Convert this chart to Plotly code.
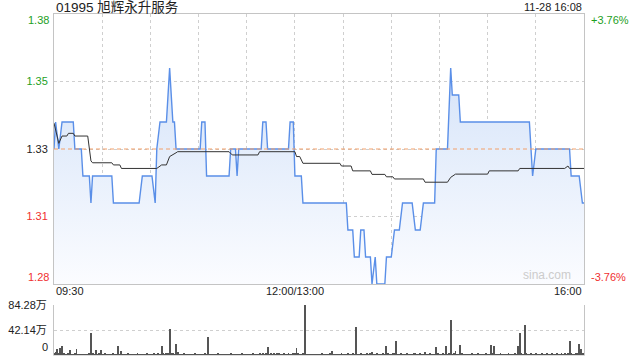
import plotly.graph_objects as go

# ---------------- data ----------------
title_text = "01995 旭辉永升服务"
stamp_text = "11-28 16:08"
prev_close = 1.33

# price: (minute since 09:30 on a 330-minute session, price)
price_t = [0, 1, 3, 5, 12, 13, 17, 18, 22, 23, 24, 36, 37, 53, 55, 61, 63, 64, 66, 70,
           72, 74, 75, 76, 91, 92, 94, 95, 109, 110, 113, 114, 115, 129, 130, 132, 133, 146, 147, 149,
           150, 154, 155, 182, 183, 186, 187, 190, 191, 193, 194, 197, 198, 200, 201, 206, 207, 210, 212, 215,
           217, 223, 225, 228, 230, 237, 238, 245, 247, 248, 252, 253, 296, 298, 300, 321, 322, 327, 329, 330]
price_v = [1.33, 1.34, 1.33, 1.34, 1.34, 1.33, 1.33, 1.32, 1.32, 1.31, 1.32, 1.32, 1.31, 1.31, 1.32, 1.32, 1.31, 1.33, 1.34, 1.34,
           1.36, 1.34, 1.34, 1.33, 1.33, 1.34, 1.34, 1.32, 1.32, 1.33, 1.33, 1.32, 1.33, 1.33, 1.34, 1.34, 1.33, 1.33, 1.34, 1.34,
           1.32, 1.32, 1.31, 1.31, 1.30, 1.30, 1.29, 1.29, 1.30, 1.30, 1.29, 1.29, 1.28, 1.29, 1.28, 1.28, 1.29, 1.29, 1.30, 1.30,
           1.31, 1.31, 1.30, 1.30, 1.31, 1.31, 1.33, 1.33, 1.36, 1.35, 1.35, 1.34, 1.34, 1.32, 1.33, 1.33, 1.32, 1.32, 1.31, 1.31]

# average price line
avg_t = [0, 3, 5, 8, 9, 12, 13, 21, 23, 24, 36, 37, 41, 42, 64, 67, 70, 72, 76, 77,
         109, 111, 127, 128, 150, 151, 153, 155, 178, 179, 185, 186, 197, 198, 206, 207, 211, 212, 230, 231,
         245, 247, 250, 270, 271, 289, 290, 318, 320, 321, 330]
avg_v = [1.3396, 1.3321, 1.3348, 1.3348, 1.3358, 1.3358, 1.3348, 1.3348, 1.3256, 1.3249, 1.3249, 1.3241, 1.3241, 1.3228, 1.3228, 1.3241, 1.3241, 1.3272, 1.3286, 1.3290,
         1.3290, 1.3278, 1.3278, 1.3290, 1.3290, 1.3272, 1.3272, 1.3247, 1.3247, 1.3237, 1.3237, 1.3219, 1.3219, 1.3206, 1.3206, 1.3197, 1.3197, 1.3189, 1.3189, 1.3177,
         1.3177, 1.3195, 1.3207, 1.3207, 1.3219, 1.3219, 1.3228, 1.3228, 1.3237, 1.3228, 1.3228]

# volume per minute (万股)
volume = [
    3.0, 4.4, 9.5, 2.0, 11.8, 15.0, 2.5, 1.5, 1.0, 2.0, 8.0, 1.5, 1.0, 2.0, 9.6, 1.2, 1.0, 1.5, 1.0, 1.2, 1.0, 1.5, 2.0, 36.6, 2.0, 1.5, 8.0, 1.2, 2.0, 8.0,
    1.5, 1.0, 2.0, 1.2, 1.0, 1.5, 1.0, 2.0, 1.2, 1.5, 15.0, 1.0, 6.0, 1.5, 1.0, 1.2, 2.0, 1.0, 1.5, 1.0, 1.2, 1.0, 2.0, 1.5, 1.0, 1.2, 1.0, 1.5, 2.0, 1.0,
    1.5, 1.2, 2.0, 1.0, 1.5, 2.5, 1.0, 15.0, 2.0, 1.5, 4.0, 2.0, 43.3, 2.5, 4.0, 1.5, 18.0, 5.0, 1.5, 1.2, 1.0, 2.0, 1.5, 1.0, 1.2, 1.0, 1.5, 1.0, 2.0, 1.2,
    1.0, 1.5, 1.2, 1.0, 2.0, 1.5, 30.4, 1.2, 1.0, 1.5, 1.0, 1.2, 2.0, 1.0, 1.5, 1.0, 1.2, 1.0, 1.5, 1.0, 2.0, 1.2, 1.0, 1.5, 1.0, 1.2, 1.0, 2.0, 1.5, 1.0,
    1.2, 1.0, 1.5, 1.0, 2.0, 1.2, 1.0, 1.5, 2.0, 1.0, 2.5, 1.5, 2.0, 13.5, 1.5, 2.5, 1.0, 2.0, 1.5, 4.0, 2.0, 1.5, 1.0, 2.0, 1.2, 1.5, 2.5, 1.0, 1.5, 2.0,
    3.0, 11.3, 2.0, 1.5, 1.0, 2.0, 84.28, 1.5, 1.0, 1.2, 1.0, 1.5, 1.0, 1.2, 1.5, 1.0, 1.2, 2.0, 1.0, 1.5, 1.2, 1.0, 2.0, 6.0, 1.5, 1.0, 1.2, 1.5, 1.0, 2.0,
    1.2, 1.0, 1.5, 2.0, 1.0, 1.2, 2.5, 1.5, 47.2, 1.5, 1.0, 2.0, 1.2, 1.0, 1.5, 2.0, 1.0, 2.5, 5.0, 1.5, 1.0, 2.0, 1.2, 1.5, 1.0, 2.0, 1.5, 15.0, 2.0, 1.0,
    1.5, 4.0, 2.0, 23.0, 1.5, 1.0, 2.0, 1.5, 1.2, 1.0, 2.0, 1.5, 1.0, 1.2, 2.0, 4.0, 1.5, 1.0, 2.0, 1.2, 1.5, 5.0, 1.0, 1.5, 2.0, 1.0, 1.2, 1.5, 13.5, 2.0,
    1.5, 1.0, 2.0, 1.5, 15.0, 1.2, 2.0, 59.5, 1.5, 2.0, 6.0, 1.5, 1.0, 16.5, 2.0, 1.5, 1.0, 1.2, 1.5, 1.0, 2.0, 1.2, 1.0, 1.5, 2.5, 1.0, 1.2, 1.5, 1.0, 2.0,
    1.5, 1.0, 16.5, 2.0, 15.0, 1.5, 1.0, 1.2, 2.0, 1.0, 1.5, 1.2, 1.0, 2.0, 1.5, 1.0, 1.2, 2.0, 1.5, 15.0, 36.6, 2.0, 1.5, 51.0, 2.0, 1.5, 1.0, 2.5, 1.2, 1.5,
    2.0, 1.0, 1.5, 1.2, 2.0, 1.0, 1.5, 2.5, 1.0, 1.2, 2.0, 1.5, 1.0, 2.5, 1.2, 1.5, 2.0, 1.0, 2.5, 1.5, 2.0, 24.0, 2.0, 1.5, 1.0, 2.5, 2.0, 18.0, 10.0, 2.0,
    4.0,
]

price_ticks = [1.28, 1.305, 1.33, 1.355, 1.38]
price_labels = ["1.28", "1.31", "1.33", "1.35", "1.38"]
pct_ticks = [-3.76, -1.88, 0.0, 1.88, 3.76]
pct_labels = ["-3.76%", "-1.88%", "0.00%", "+1.88%", "+3.76%"]
vol_ticks = [42.14, 84.28]
vol_labels = ["42.14万", "84.28万"]
time_ticks = [0, 150, 330]
time_labels = ["09:30", "12:00/13:00", "16:00"]

# ---------------- style ----------------
FONT = "Liberation Sans, Arial, Noto Sans CJK SC, sans-serif"
GREEN = "#1ea01e"
RED = "#f03030"
GRID = "#cfcfcf"
BORDER = "#c4c4c4"
y_lo, y_hi = price_ticks[0], price_ticks[-1]
pct_hi = (y_hi - prev_close) / prev_close * 100
pct_lo = (y_lo - prev_close) / prev_close * 100


def colored(label, val, ref):
    c = GREEN if val > ref else (RED if val < ref else "#222222")
    return f'<span style="color:{c}">{label}</span>'


fig = go.Figure()

# fill baseline
fig.add_trace(go.Scatter(x=[price_t[0], price_t[-1]], y=[y_lo, y_lo], mode="lines",
                         line=dict(width=0, color="rgba(0,0,0,0)"), hoverinfo="skip",
                         showlegend=False, xaxis="x", yaxis="y"))
fig.add_trace(go.Scatter(x=price_t, y=price_v, mode="lines", fill="tonexty",
                         fillgradient=dict(type="vertical", start=y_lo, stop=1.36,
                                           colorscale=[[0, "rgba(251,252,255,1)"], [1, "rgba(214,228,249,1)"]]),
                         line=dict(color="#5a8fe8", width=1.4), hoverinfo="skip",
                         showlegend=False, xaxis="x", yaxis="y"))
# prev close
fig.add_trace(go.Scatter(x=[price_t[0], price_t[-1]], y=[prev_close, prev_close], mode="lines",
                         line=dict(color="#f2a06a", width=1, dash="4px,3px"), hoverinfo="skip",
                         showlegend=False, xaxis="x", yaxis="y"))
# average line
fig.add_trace(go.Scatter(x=avg_t, y=avg_v, mode="lines", line=dict(color="#333333", width=1),
                         hoverinfo="skip", showlegend=False, xaxis="x", yaxis="y"))
# volume
fig.add_trace(go.Bar(x=list(range(len(volume))), y=volume, width=0.6,
                     marker=dict(color="#555555", line=dict(width=0)), hoverinfo="skip",
                     showlegend=False, xaxis="x2", yaxis="y2"))

H_PLOT = 341.0
main_bottom = (355 - 284) / H_PLOT
vol_top = (355 - 305) / H_PLOT

fig.update_layout(
    width=640, height=360,
    margin=dict(l=54, r=56, t=14, b=5),
    paper_bgcolor="white", plot_bgcolor="white",
    font=dict(family=FONT, size=11, color="#222222"),
    bargap=0,
    xaxis=dict(domain=[0, 1], range=[0, 330], anchor="y", tickvals=list(range(0, 331, 30)),
               showticklabels=False, ticks="", showgrid=True, gridcolor=GRID, griddash="dot", gridwidth=1,
               zeroline=False, showline=True, linecolor=BORDER, linewidth=1, mirror=True),
    yaxis=dict(domain=[main_bottom, 1], range=[y_lo, y_hi], tickvals=price_ticks,
               ticktext=["" if v in (y_lo, y_hi) else colored(t, v, prev_close)
                         for v, t in zip(price_ticks, price_labels)],
               ticks="", showgrid=True, gridcolor=GRID, griddash="dot", zeroline=False,
               showline=True, linecolor=BORDER, linewidth=1, mirror=True, ticklabelstandoff=3),
    yaxis3=dict(overlaying="y", side="right", anchor="x", range=[pct_lo, pct_hi], tickvals=pct_ticks,
                ticktext=["" if abs(v) > 3 else colored(t, v, 0) for v, t in zip(pct_ticks, pct_labels)],
                ticks="", showgrid=False, zeroline=False, showline=False, ticklabelstandoff=5),
    xaxis2=dict(domain=[0, 1], range=[0, 330], anchor="y2", showticklabels=False, ticks="",
                showgrid=False, zeroline=False, showline=True, linecolor="#dddddd", linewidth=1),
    yaxis2=dict(domain=[0, vol_top], range=[0, vol_ticks[-1]], tickvals=vol_ticks, ticktext=vol_labels,
                ticks="", showgrid=True, gridcolor=GRID, griddash="dot", zeroline=False,
                showline=True, linecolor=BORDER, linewidth=1, mirror=True, ticklabelstandoff=4),
)

ann = []
ann.append(dict(text=title_text, xref="paper", yref="paper", x=0, y=1 + 7 / H_PLOT,
                xanchor="left", yanchor="middle", showarrow=False, font=dict(size=13.5, color="#222222")))
ann.append(dict(text=stamp_text, xref="paper", yref="paper", x=1, y=1 + 7 / H_PLOT,
                xanchor="right", yanchor="middle", showarrow=False, font=dict(size=11, color="#222222")))
# edge price labels
ann.append(dict(text=colored(price_labels[-1], y_hi, prev_close), xref="paper", yref="y", x=0, y=y_hi,
                xanchor="right", yanchor="middle", xshift=-3, yshift=-6, showarrow=False))
ann.append(dict(text=colored(price_labels[0], y_lo, prev_close), xref="paper", yref="y", x=0, y=y_lo,
                xanchor="right", yanchor="middle", xshift=-3, yshift=7, showarrow=False))
ann.append(dict(text=colored(pct_labels[-1], 1, 0), xref="paper", yref="y", x=1, y=y_hi,
                xanchor="left", yanchor="middle", xshift=5, yshift=-6, showarrow=False))
ann.append(dict(text=colored(pct_labels[0], -1, 0), xref="paper", yref="y", x=1, y=y_lo,
                xanchor="left", yanchor="middle", xshift=5, yshift=7, showarrow=False))
# volume zero label
ann.append(dict(text="0", xref="paper", yref="y2", x=0, y=0, xanchor="right", yanchor="middle",
                xshift=-4, yshift=8, showarrow=False))
# time labels
anchors = ["left", "center", "right"]
for t, lab, a in zip(time_ticks, time_labels, anchors):
    ann.append(dict(text=lab, xref="x", yref="paper", x=t, y=(355 - 291) / H_PLOT,
                    xanchor=a, yanchor="middle", showarrow=False, font=dict(size=11, color="#222222")))
# watermark
ann.append(dict(text="sina.com", xref="x", yref="y", x=330, y=y_lo, xanchor="right", yanchor="bottom",
                xshift=-11, yshift=0, showarrow=False, font=dict(size=12, color="#cccccc")))
fig.update_layout(annotations=ann)

fig.write_html("out.html")
